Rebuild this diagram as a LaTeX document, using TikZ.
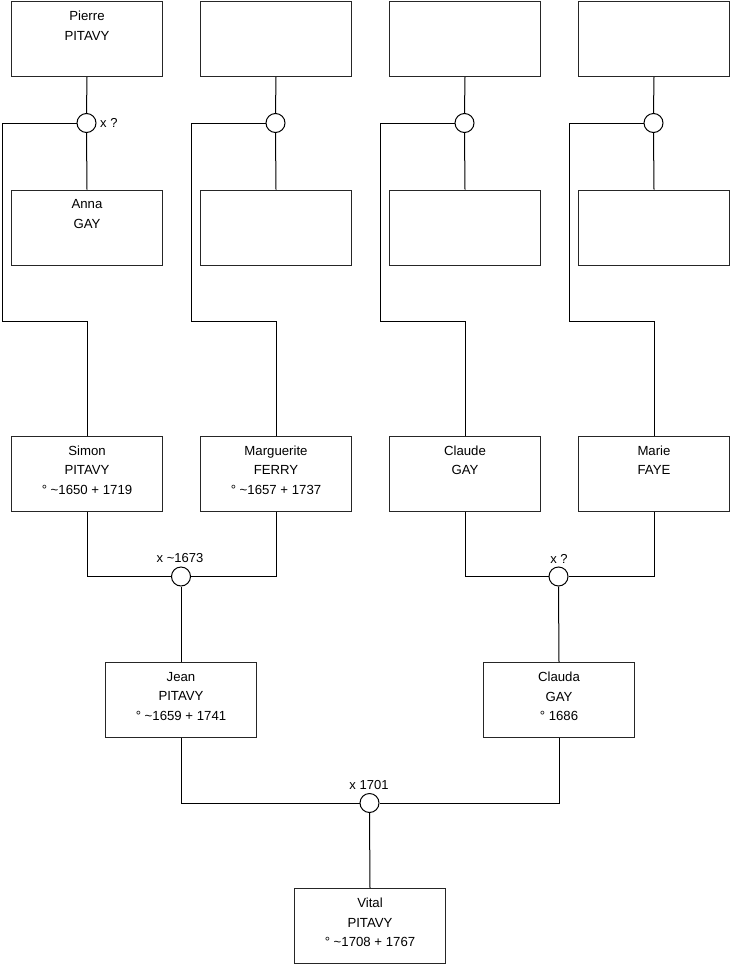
\documentclass[tikz,border=0pt]{standalone}
\usepackage{fontspec}
\setmainfont{Liberation Sans}
\begin{document}
\begin{tikzpicture}[x=1pt,y=-1pt,
  person/.style={draw=black!85,line width=1pt,fill=white,minimum width=151pt,minimum height=75pt,inner sep=0pt,anchor=north west},
  union/.style={circle,draw=black,line width=1pt,fill=white,minimum size=19pt,inner sep=0pt},
  link/.style={draw=black,line width=1pt},
  txt/.style={anchor=north,inner sep=0pt,align=center,font=\fontsize{13.2}{19.5}\selectfont,yshift=-10.2pt},
  lbl/.style={inner sep=0pt,font=\fontsize{13}{15}\selectfont}]
\useasboundingbox (0,0) rectangle (740,975);
% top row
\node[person] (p1) at (11,1) {};
\node[person] (p2) at (200,1) {};
\node[person] (p3) at (389,1) {};
\node[person] (p4) at (578,1) {};
% second row
\node[person] (s1) at (11,189.5) {};
\node[person] (s2) at (200,189.5) {};
\node[person] (s3) at (389,189.5) {};
\node[person] (s4) at (578,189.5) {};
% third row
\node[person] (c1) at (11,435.5) {};
\node[person] (c2) at (200,435.5) {};
\node[person] (c3) at (389,435.5) {};
\node[person] (c4) at (578,435.5) {};
% fourth row
\node[person] (j) at (105,662) {};
\node[person] (cl) at (483,662) {};
% bottom
\node[person] (v) at (294,888) {};
% unions
\node[union] (u1) at (86.5,123) {};
\node[union] (u2) at (275.5,123) {};
\node[union] (u3) at (464.5,123) {};
\node[union] (u4) at (653.5,123) {};
\node[union] (u5) at (181,576.5) {};
\node[union] (u6) at (558.5,576.5) {};
\node[union] (u7) at (369.5,803) {};
% bend coordinates
\coordinate (k1) at (2,321);
\coordinate (k2) at (191,321);
\coordinate (k3) at (380,321);
\coordinate (k4) at (569,321);
% connectors
\foreach \i in {1,2,3,4}{
  \draw[link] (p\i.south) -- (u\i.north);
  \draw[link] (u\i.south) -- (s\i.north);
  \draw[link] (u\i.west) -| (k\i) -| (c\i.north);
}
\draw[link] (c1.south) |- (u5.west);
\draw[link] (c2.south) |- (u5.east);
\draw[link] (u5.south) -- (j.north);
\draw[link] (c3.south) |- (u6.west);
\draw[link] (c4.south) |- (u6.east);
\draw[link] (u6.south) -- (cl.north);
\draw[link] (j.south) |- (u7.west);
\draw[link] (cl.south) |- (u7.east);
\draw[link] (u7.south) -- (v.north);
% texts
\node[txt] (tp1) at (p1.north) {Pierre\\PITAVY};
\node[txt] (ts1) at (s1.north) {Anna\\GAY};
\node[txt] (tc1) at (c1.north) {Simon\\PITAVY\\° \textasciitilde1650 + 1719};
\node[txt] (tc2) at (c2.north) {Marguerite\\FERRY\\° \textasciitilde1657 + 1737};
\node[txt] (tc3) at (c3.north) {Claude\\GAY};
\node[txt] (tc4) at (c4.north) {Marie\\FAYE};
\node[txt] (tj) at (j.north) {Jean\\PITAVY\\° \textasciitilde1659 + 1741};
\node[txt] (tcl) at (cl.north) {Clauda\\GAY\\° 1686};
\node[txt] (tv) at (v.north) {Vital\\PITAVY\\° \textasciitilde1708 + 1767};
% union labels
\node[lbl,anchor=west] (l1) at (100,123) {x ?};
\node[lbl] (l5) at (180,558.5) {x \textasciitilde1673};
\node[lbl] (l6) at (559,558.5) {x ?};
\node[lbl] (l7) at (369,785.5) {x 1701};
\end{tikzpicture}
\end{document}
